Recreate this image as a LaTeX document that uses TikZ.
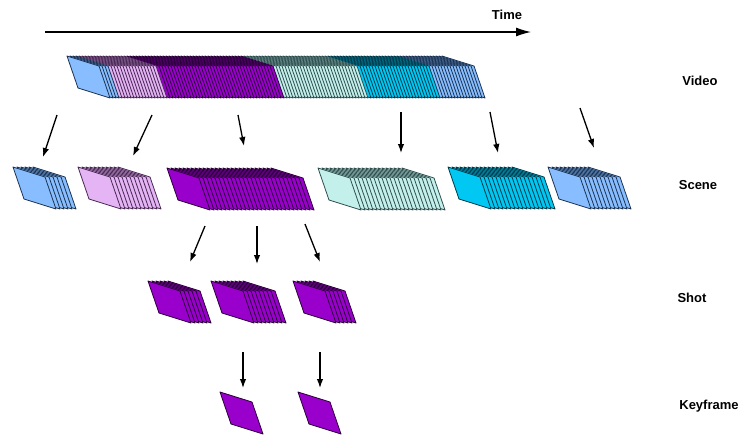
\documentclass[tikz,border=0pt]{standalone}
\usepackage{fontspec}
\setmainfont{Liberation Sans}
\usetikzlibrary{arrows.meta}

% frame colours: fill / outline
\definecolor{blueF}{HTML}{88BEFF}
\definecolor{blueD}{HTML}{1C3352}
\definecolor{pinkF}{HTML}{E4B4F4}
\definecolor{pinkD}{HTML}{4A2A55}
\definecolor{purpF}{HTML}{9A00CC}
\definecolor{purpD}{HTML}{2A0038}
\definecolor{lcyanF}{HTML}{C4F0EC}
\definecolor{lcyanD}{HTML}{2F4F4F}
\definecolor{cyanF}{HTML}{00C8F2}
\definecolor{cyanD}{HTML}{003A4A}

\tikzset{
  frm/.style={line width=0.8pt, line join=round},
  arr/.style={line width=1.3pt, -{Latex[length=9pt,width=6.5pt]}},
  lvl/.style={font=\bfseries\fontsize{13}{15}\selectfont, inner sep=0pt},
}

% a run of frames: x0, y0, first index, last index, spacing, fill, outline
% drawn from the back (last index) to the front (first index)
\newcommand\framerun[7]{%
  \foreach \i in {#4,...,#3}{%
    \pgfmathsetmacro\fx{#1+#5*\i}%
    \filldraw[frm, fill=#6, draw=#7] (\fx,#2) -- ++(32,10) -- ++(11,32)
      -- ++(-32,-10) -- cycle;
  }%
}

\begin{document}
\begin{tikzpicture}[x=1pt,y=-1pt]
\useasboundingbox (0,0) rectangle (739,437);

% time axis
\coordinate (t0) at (45,32);
\coordinate (t1) at (531,32);
\draw[line width=1.2pt, -{Latex[length=15pt,width=9pt]}] (t0) -- (t1);
\node[lvl] (time) at (507,15) {Time};

% video: one long run of frames, coloured by scene
\framerun{67}{56}{111}{125}{3}{blueF}{blueD}
\framerun{67}{56}{87}{110}{3}{cyanF}{cyanD}
\framerun{67}{56}{59}{86}{3}{lcyanF}{lcyanD}
\framerun{67}{56}{20}{58}{3}{purpF}{purpD}
\framerun{67}{56}{4}{19}{3}{pinkF}{pinkD}
\framerun{67}{56}{0}{3}{3}{blueF}{blueD}

% scenes
\framerun{13}{167}{0}{5}{4}{blueF}{blueD}
\framerun{78}{167}{0}{10}{4}{pinkF}{pinkD}
\framerun{167}{168}{0}{26}{4}{purpF}{purpD}
\framerun{318}{168}{0}{21}{4}{lcyanF}{lcyanD}
\framerun{448}{167}{0}{16}{4}{cyanF}{cyanD}
\framerun{548}{167}{0}{10}{4}{blueF}{blueD}

% shots
\framerun{148}{281}{0}{5}{4}{purpF}{purpD}
\framerun{211}{281}{0}{8}{4}{purpF}{purpD}
\framerun{293}{281}{0}{5}{4}{purpF}{purpD}

% keyframes
\framerun{220}{392}{0}{0}{4}{purpF}{purpD}
\framerun{298}{392}{0}{0}{4}{purpF}{purpD}

% arrow end points
\coordinate (v1) at (57,115);  \coordinate (s1) at (43,157);
\coordinate (v2) at (152,115); \coordinate (s2) at (133,156);
\coordinate (v3) at (238,115); \coordinate (s3) at (244,146);
\coordinate (v4) at (401,112); \coordinate (s4) at (401,153);
\coordinate (v5) at (490,112); \coordinate (s5) at (498,153);
\coordinate (v6) at (580,108); \coordinate (s6) at (594,148);
\coordinate (c1) at (205,226); \coordinate (h1) at (190,262);
\coordinate (c2) at (257,226); \coordinate (h2) at (257,264);
\coordinate (c3) at (305,224); \coordinate (h3) at (320,262);
\coordinate (p1) at (243,352); \coordinate (k1) at (243,388);
\coordinate (p2) at (320,352); \coordinate (k2) at (320,388);

\foreach \a/\b in {v1/s1,v2/s2,v3/s3,v4/s4,v5/s5,v6/s6,c1/h1,c2/h2,c3/h3,p1/k1,p2/k2}
  \draw[arr] (\a) -- (\b);

% level labels
\node[lvl] (lvideo) at (700,81) {Video};
\node[lvl] (lscene) at (698,185) {Scene};
\node[lvl] (lshot)  at (692,298) {Shot};
\node[lvl] (lkey)   at (709,406) {Keyframe};
\end{tikzpicture}
\end{document}
